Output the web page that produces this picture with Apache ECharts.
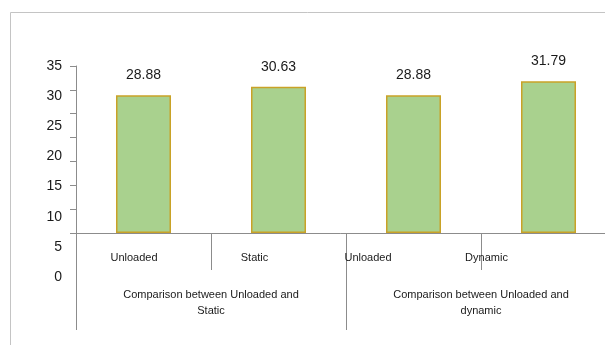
<!DOCTYPE html>
<html>
<head>
<meta charset="utf-8">
<script src="https://cdn.jsdelivr.net/npm/echarts@6/dist/echarts.min.js"></script>
<style>
  html, body { margin: 0; padding: 0; background: #ffffff; }
  #chart { width: 605px; height: 345px; }
</style>
</head>
<body>
<div id="chart"></div>
<script>
// Load test results: two comparisons, each with two conditions
const categories = ['Unloaded', 'Static', 'Unloaded', 'Dynamic'];
const groups = ['Comparison between Unloaded and\nStatic', 'Comparison between Unloaded and\ndynamic'];
const values = [28.88, 30.63, 28.88, 31.79];
const yMin = 0, yMax = 35, yStep = 5;

// per-label right padding that nudges each category caption leftwards
const labelShift = [19, 48, 91, 124];

const font = '"Liberation Sans", Arial, sans-serif';
const axisGrey = '#8c8c8c';

const rich = {};
labelShift.forEach((p, i) => {
  rich['c' + i] = { fontSize: 11, fontFamily: font, color: '#1a1a1a', lineHeight: 14, padding: [0, p, 0, 0] };
});

const chart = echarts.init(document.getElementById('chart'), null, { renderer: 'canvas' });

chart.setOption({
  animation: false,
  backgroundColor: '#ffffff',
  graphic: [{
    // chart-area frame: left and top edges (the rest runs off the page)
    type: 'polyline',
    shape: { points: [[10.5, 345], [10.5, 12.5], [605, 12.5]] },
    style: { fill: 'none', stroke: '#c4c4c4', lineWidth: 1 },
    silent: true
  }],
  grid: [
    { left: 76, top: 66, width: 540, height: 167, outerBoundsMode: 'none', containLabel: false },
    { left: 76, top: 66, width: 540, height: 211, outerBoundsMode: 'none', containLabel: false }
  ],
  xAxis: [
    {
      type: 'category', gridIndex: 0, position: 'bottom', data: categories,
      axisLine: { lineStyle: { color: axisGrey, width: 1 } },
      axisTick: { show: true, length: 37, alignWithLabel: false, interval: 0, lineStyle: { color: axisGrey } },
      axisLabel: {
        interval: 0, margin: 18, hideOverlap: false,
        formatter: (v, i) => '{c' + i + '|' + v + '}',
        rich: rich
      }
    },
    {
      type: 'category', gridIndex: 0, position: 'bottom', data: groups,
      axisLine: { show: false },
      axisTick: { show: true, length: 97, alignWithLabel: false, interval: 0, lineStyle: { color: axisGrey } },
      axisLabel: { interval: 0, margin: 54, fontSize: 11, lineHeight: 16, fontFamily: font, color: '#1a1a1a', align: 'center' }
    },
    { type: 'category', gridIndex: 1, show: false, data: categories }
  ],
  yAxis: [
    {
      type: 'value', gridIndex: 0, min: yMin, max: yMax, interval: yStep,
      axisLine: { show: true, lineStyle: { color: axisGrey } },
      axisTick: { show: true, length: 6, lineStyle: { color: axisGrey } },
      axisLabel: { show: false },
      splitLine: { show: false }
    },
    {
      type: 'value', gridIndex: 1, min: yMin, max: yMax, interval: yStep,
      axisLine: { show: false },
      axisTick: { show: false },
      axisLabel: { show: true, margin: 14, fontSize: 14, fontFamily: font, color: '#1a1a1a' },
      splitLine: { show: false }
    }
  ],
  series: [{
    type: 'bar',
    xAxisIndex: 0, yAxisIndex: 0,
    data: values,
    barWidth: 55,
    itemStyle: { color: '#a9d18e', borderColor: '#c9a227', borderWidth: 1.5 },
    label: {
      show: true, position: 'top', distance: 13,
      fontSize: 14, fontFamily: font, color: '#1a1a1a',
      formatter: p => p.value.toFixed(2)
    }
  }]
});
</script>
</body>
</html>
